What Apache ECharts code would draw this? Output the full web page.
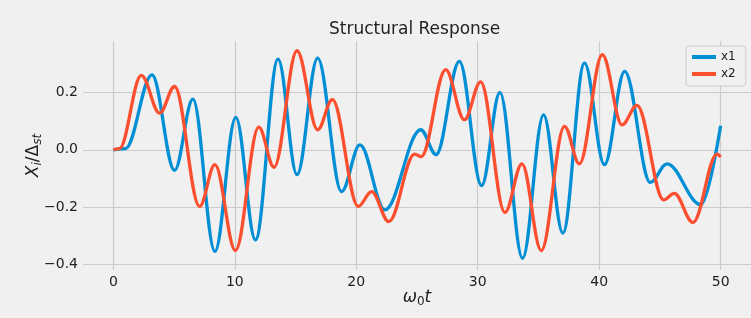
<!DOCTYPE html>
<html>
<head>
<meta charset="utf-8">
<script src="https://cdn.jsdelivr.net/npm/echarts@6/dist/echarts.min.js"></script>
<style>
  html, body { margin: 0; padding: 0; background: #f0f0f0; }
  #chart { width: 751px; height: 318px; }
</style>
</head>
<body>
<div id="chart"></div>
<script>
// turning points (w0*t, X/Dst)
const x1T = [0, 1.0, 3.18, 5.04, 6.55, 8.36, 10.08, 11.70, 13.56, 15.12, 16.82, 18.79, 20.30, 22.35,
  25.31, 26.57, 28.49, 30.32, 31.83, 33.69, 35.42, 37.01, 38.79, 40.43, 42.10, 44.21, 45.58, 48.37, 50];
const x1Y = [0, 0.004, 0.262, -0.072, 0.177, -0.355, 0.113, -0.315, 0.317, -0.087, 0.320, -0.146, 0.017, -0.210,
  0.070, -0.017, 0.309, -0.125, 0.200, -0.379, 0.122, -0.291, 0.303, -0.052, 0.274, -0.114, -0.049, -0.192, 0.084];

const x2T = [0, 0.5, 2.30, 3.81, 5.04, 7.10, 8.36, 10.05, 11.97, 13.23, 15.12, 16.82, 18.03, 20.16, 21.26, 22.68,
  24.80, 25.35, 27.36, 28.90, 30.24, 32.24, 33.64, 35.23, 37.14, 38.37, 40.26, 41.88, 43.11, 45.31, 46.18, 47.72, 49.70, 50];
const x2Y = [0, 0.004, 0.260, 0.128, 0.221, -0.198, -0.052, -0.352, 0.079, -0.061, 0.346, 0.070, 0.175, -0.198, -0.146, -0.251,
  -0.015, -0.024, 0.280, 0.105, 0.237, -0.219, -0.049, -0.352, 0.082, -0.049, 0.332, 0.087, 0.155, -0.175, -0.152, -0.254, -0.015, -0.025];

const xTicks = [0, 10, 20, 30, 40, 50];
const yTicks = [-0.4, -0.2, 0, 0.2];

const FONT = 'DejaVu Sans';
const TEXT = '#222';
const GRIDC = '#cbcbcb';

const pairs = (t, v) => t.map((x, i) => [x, v[i]]);
const minus = v => (v < 0 ? '\u2212' + Math.abs(v).toFixed(1) : v.toFixed(1));

const chart = echarts.init(document.getElementById('chart'));

chart.setOption({
  backgroundColor: '#f0f0f0',
  animation: false,
  textStyle: { fontFamily: FONT },
  title: {
    text: 'Structural Response',
    left: 329,
    top: 21,
    padding: 0,
    textStyle: { fontFamily: FONT, fontSize: 17, fontWeight: 'normal', color: TEXT }
  },
  legend: {
    orient: 'vertical',
    left: 686,
    top: 46,
    padding: [5, 10, 6, 6],
    itemGap: 5,
    itemWidth: 24,
    itemHeight: 4,
    icon: 'rect',
    backgroundColor: '#f0f0f0',
    borderColor: '#cccccc',
    borderWidth: 1,
    borderRadius: 3,
    textStyle: { fontFamily: FONT, fontSize: 12, color: TEXT, lineHeight: 12 },
    data: ['x1', 'x2']
  },
  grid: { left: 83, top: 41, width: 669, height: 229 },
  xAxis: {
    type: 'value',
    min: -2.5,
    max: 52.5,
    name: '{it|ω}{sub|0}{it|t}',
    nameLocation: 'middle',
    nameGap: 18,
    nameMoveOverlap: false,
    nameTextStyle: {
      rich: {
        it: { fontFamily: FONT, fontStyle: 'italic', fontSize: 17, color: TEXT, lineHeight: 20 },
        sub: { fontFamily: FONT, fontSize: 12, color: TEXT, lineHeight: 12, verticalAlign: 'bottom' }
      }
    },
    axisLine: { show: false },
    axisTick: { show: false, customValues: xTicks },
    axisLabel: { customValues: xTicks, fontFamily: FONT, fontSize: 14, color: TEXT, margin: 5 },
    splitLine: { show: true, lineStyle: { color: GRIDC, width: 1.2 } }
  },
  yAxis: {
    type: 'value',
    min: -0.42,
    max: 0.38,
    name: '{it|X}{sub|i}{n|/Δ}{sub|st}',
    nameLocation: 'middle',
    nameRotate: 90,
    nameGap: 39,
    nameMoveOverlap: false,
    nameTextStyle: {
      rich: {
        it: { fontFamily: FONT, fontStyle: 'italic', fontSize: 17, color: TEXT, lineHeight: 20 },
        n: { fontFamily: FONT, fontSize: 17, color: TEXT, lineHeight: 20 },
        sub: { fontFamily: FONT, fontStyle: 'italic', fontSize: 12, color: TEXT, lineHeight: 12, verticalAlign: 'bottom' }
      }
    },
    axisLine: { show: false },
    axisTick: { show: false, customValues: yTicks },
    axisLabel: { customValues: yTicks, formatter: minus, fontFamily: FONT, fontSize: 14, color: TEXT, margin: 5 },
    splitLine: { show: true, lineStyle: { color: GRIDC, width: 1.2 } }
  },
  series: [
    {
      name: 'x1',
      type: 'line',
      data: pairs(x1T, x1Y),
      showSymbol: false,
      smooth: 0.36,
      smoothMonotone: 'x',
      color: '#008fd5',
      lineStyle: { width: 3.3, color: '#008fd5' }
    },
    {
      name: 'x2',
      type: 'line',
      data: pairs(x2T, x2Y),
      showSymbol: false,
      smooth: 0.36,
      smoothMonotone: 'x',
      color: '#fc4f30',
      lineStyle: { width: 3.3, color: '#fc4f30' }
    }
  ]
});
</script>
</body>
</html>
